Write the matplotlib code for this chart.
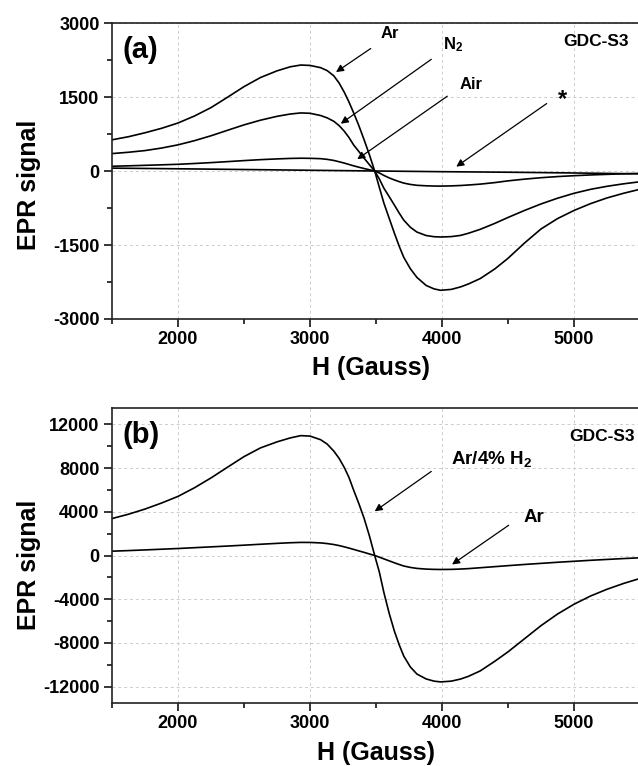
import numpy as np
import matplotlib
matplotlib.use("Agg")
import matplotlib.pyplot as plt
from matplotlib.ticker import MultipleLocator, FixedLocator

plt.rcParams['font.family'] = ['Liberation Sans', 'DejaVu Sans']
plt.rcParams['font.weight'] = 'bold'
plt.rcParams['axes.unicode_minus'] = False
plt.rcParams['mathtext.fontset'] = 'custom'
plt.rcParams['mathtext.rm'] = 'Liberation Sans:bold'
plt.rcParams['mathtext.it'] = 'Liberation Sans:bold'
plt.rcParams['mathtext.bf'] = 'Liberation Sans:bold'
plt.rcParams['mathtext.default'] = 'rm'

# ---------------- field values (Gauss) ----------------
H = [1500, 1625, 1750, 1875, 2000, 2125, 2250, 2375, 2500, 2625, 2750, 2850, 2930, 3000,
     3080, 3130, 3180, 3220, 3260, 3295, 3330, 3370, 3410, 3450, 3490, 3525, 3560, 3600,
     3640, 3675, 3710, 3760, 3810, 3880, 3940, 3990, 4070, 4140, 4200, 4290, 4400, 4500,
     4625, 4750, 4875, 5000, 5125, 5250, 5375, 5500]

# ---------------- panel (a) ----------------
ar_a = [632, 695, 775, 865, 973, 1115, 1285, 1495, 1710, 1895, 2030, 2112, 2148, 2140,
        2095, 2035, 1930, 1785, 1595, 1400, 1183, 920, 632, 330, 0, -330, -653, -960,
        -1265, -1520, -1748, -1980, -2157, -2320, -2390, -2418, -2400, -2350, -2290, -2180, -1985, -1770,
        -1460, -1175, -965, -800, -662, -546, -452, -370]
n2_a = [353, 380, 414, 465, 530, 615, 714, 825, 935, 1030, 1108, 1155, 1177, 1170,
        1125, 1077, 1008, 922, 805, 680, 530, 395, 259, 128, 0, -160, -350, -520,
        -694, -850, -995, -1140, -1238, -1308, -1332, -1338, -1330, -1306, -1262, -1182, -1062, -942,
        -800, -668, -552, -452, -372, -310, -260, -218]
air_a = [96, 105, 115, 125, 136, 152, 170, 190, 211, 230, 245, 255, 259, 257,
         250, 236, 214, 188, 160, 133, 105, 77, 50, 25, 0, -40, -90, -140,
         -182, -215, -245, -272, -290, -300, -305, -306, -302, -294, -284, -266, -235, -200,
         -165, -136, -113, -95, -80, -68, -57, -48]
H_star = [1500, 2000, 2500, 3000, 3500, 4000, 4500, 5000, 5500]
star_a = [58, 45, 30, 15, 0, -14, -25, -40, -58]

# ---------------- panel (b) ----------------
arh2_b = [3380, 3780, 4250, 4800, 5410, 6200, 7100, 8080, 9050, 9850, 10400, 10760, 10970, 10930,
          10600, 10200, 9560, 8900, 8050, 7150, 6000, 4750, 3400, 1800, 0, -1500, -3400, -5300,
          -6950, -8150, -9200, -10200, -10850, -11300, -11500, -11570, -11500, -11310, -11060, -10560, -9680, -8820,
          -7620, -6420, -5360, -4460, -3710, -3090, -2560, -2100]
ar_b = [396, 450, 510, 575, 640, 715, 790, 865, 945, 1030, 1110, 1168, 1198, 1195,
        1152, 1092, 1005, 910, 792, 680, 560, 420, 285, 140, 0, -150, -310, -490,
        -670, -820, -960, -1090, -1180, -1245, -1270, -1280, -1270, -1240, -1200, -1120, -1020, -930,
        -820, -720, -620, -530, -440, -360, -280, -210]

xticks = [2000, 3000, 4000, 5000]
yticks_a = [-3000, -1500, 0, 1500, 3000]
yticks_b = [-12000, -8000, -4000, 0, 4000, 8000, 12000]

W, Hh = 638, 766
fig = plt.figure(figsize=(W / 100, Hh / 100), dpi=100)

def px_axes(l, t, r, b):
    return [l / W, 1 - b / Hh, (r - l) / W, (b - t) / Hh]

ax1 = fig.add_axes(px_axes(112, 23, 640, 319))
ax2 = fig.add_axes(px_axes(112, 408, 640, 703))

def style(ax, yticks, yminor, ylim):
    ax.set_xlim(1500, 5500)
    ax.set_ylim(*ylim)
    ax.xaxis.set_major_locator(FixedLocator(xticks))
    ax.xaxis.set_minor_locator(FixedLocator([1500, 2500, 3500, 4500, 5500]))
    ax.yaxis.set_major_locator(FixedLocator(yticks))
    ax.yaxis.set_minor_locator(MultipleLocator(yminor))
    ax.grid(True, which='major', color='#cccccc', linestyle=(0, (3, 3)), linewidth=0.7)
    ax.set_axisbelow(True)
    for s in ['left', 'bottom', 'top']:
        ax.spines[s].set_linewidth(1.2)
        ax.spines[s].set_color('#222222')
    ax.spines['right'].set_visible(False)
    ax.tick_params(which='major', direction='out', length=6, width=1.1, labelsize=13, pad=3)
    ax.tick_params(which='minor', direction='out', length=3.5, width=1.1)
    ax.tick_params(top=False, right=False)
    for lab in ax.get_xticklabels() + ax.get_yticklabels():
        lab.set_fontweight('bold')

lw = 1.2
ax1.plot(H, ar_a, color='black', lw=lw)
ax1.plot(H, n2_a, color='black', lw=lw)
ax1.plot(H, air_a, color='black', lw=lw)
ax1.plot(H_star, star_a, color='black', lw=lw)
style(ax1, yticks_a, 750, (-3000, 3000))

ax2.plot(H, arh2_b, color='black', lw=lw)
ax2.plot(H, ar_b, color='black', lw=lw)
style(ax2, yticks_b, 2000, (-13500, 13500))

for ax, ly in [(ax1, 0.454), (ax2, 0.468)]:
    ax.set_ylabel('EPR signal', fontsize=18, fontweight='bold')
    ax.yaxis.set_label_coords(-0.135, ly)
    ax.set_xlabel('H (Gauss)', fontsize=18, fontweight='bold', va='top')
ax1.xaxis.set_label_coords(0.49, -0.125)
ax2.xaxis.set_label_coords(0.50, -0.13)

ax1.text(0.02, 0.955, '(a)', transform=ax1.transAxes, fontsize=21, fontweight='bold', va='top', ha='left')
ax2.text(0.02, 0.955, '(b)', transform=ax2.transAxes, fontsize=21, fontweight='bold', va='top', ha='left')
ax1.text(0.979, 0.9375, 'GDC-S3', transform=ax1.transAxes, fontsize=12.5, fontweight='bold', va='center', ha='right')
ax2.text(0.99, 0.903, 'GDC-S3', transform=ax2.transAxes, fontsize=12.5, fontweight='bold', va='center', ha='right')

ap = dict(arrowstyle='-|>', color='black', lw=0.9, mutation_scale=11, shrinkA=0, shrinkB=0)
ax1.annotate('', xy=(3197, 2005), xytext=(3460, 2483), arrowprops=ap)
ax1.text(3606, 2795, 'Ar', fontsize=12, fontweight='bold', ha='center', va='center')
ax1.annotate('', xy=(3233, 959), xytext=(3919, 2264), arrowprops=ap)
ax1.text(4008, 2560, 'N$_2$', fontsize=12, fontweight='bold', ha='left', va='center')
ax1.annotate('', xy=(3358, 239), xytext=(4040, 1516), arrowprops=ap)
ax1.text(4220, 1754, 'Air', fontsize=12, fontweight='bold', ha='center', va='center')
ax1.annotate('', xy=(4108, 88), xytext=(4793, 1367), arrowprops=ap)
ax1.text(4913, 1450, '*', fontsize=17, fontweight='bold', ha='center', va='center')

ax2.annotate('', xy=(3490, 4045), xytext=(3919, 7697), arrowprops=ap)
ax2.text(4068, 8856, 'Ar/4% H$_2$', fontsize=13.5, fontweight='bold', ha='left', va='center')
ax2.annotate('', xy=(4076, -822), xytext=(4505, 2767), arrowprops=ap)
ax2.text(4697, 3515, 'Ar', fontsize=13.5, fontweight='bold', ha='center', va='center')

fig.savefig('out.png', dpi=100)
